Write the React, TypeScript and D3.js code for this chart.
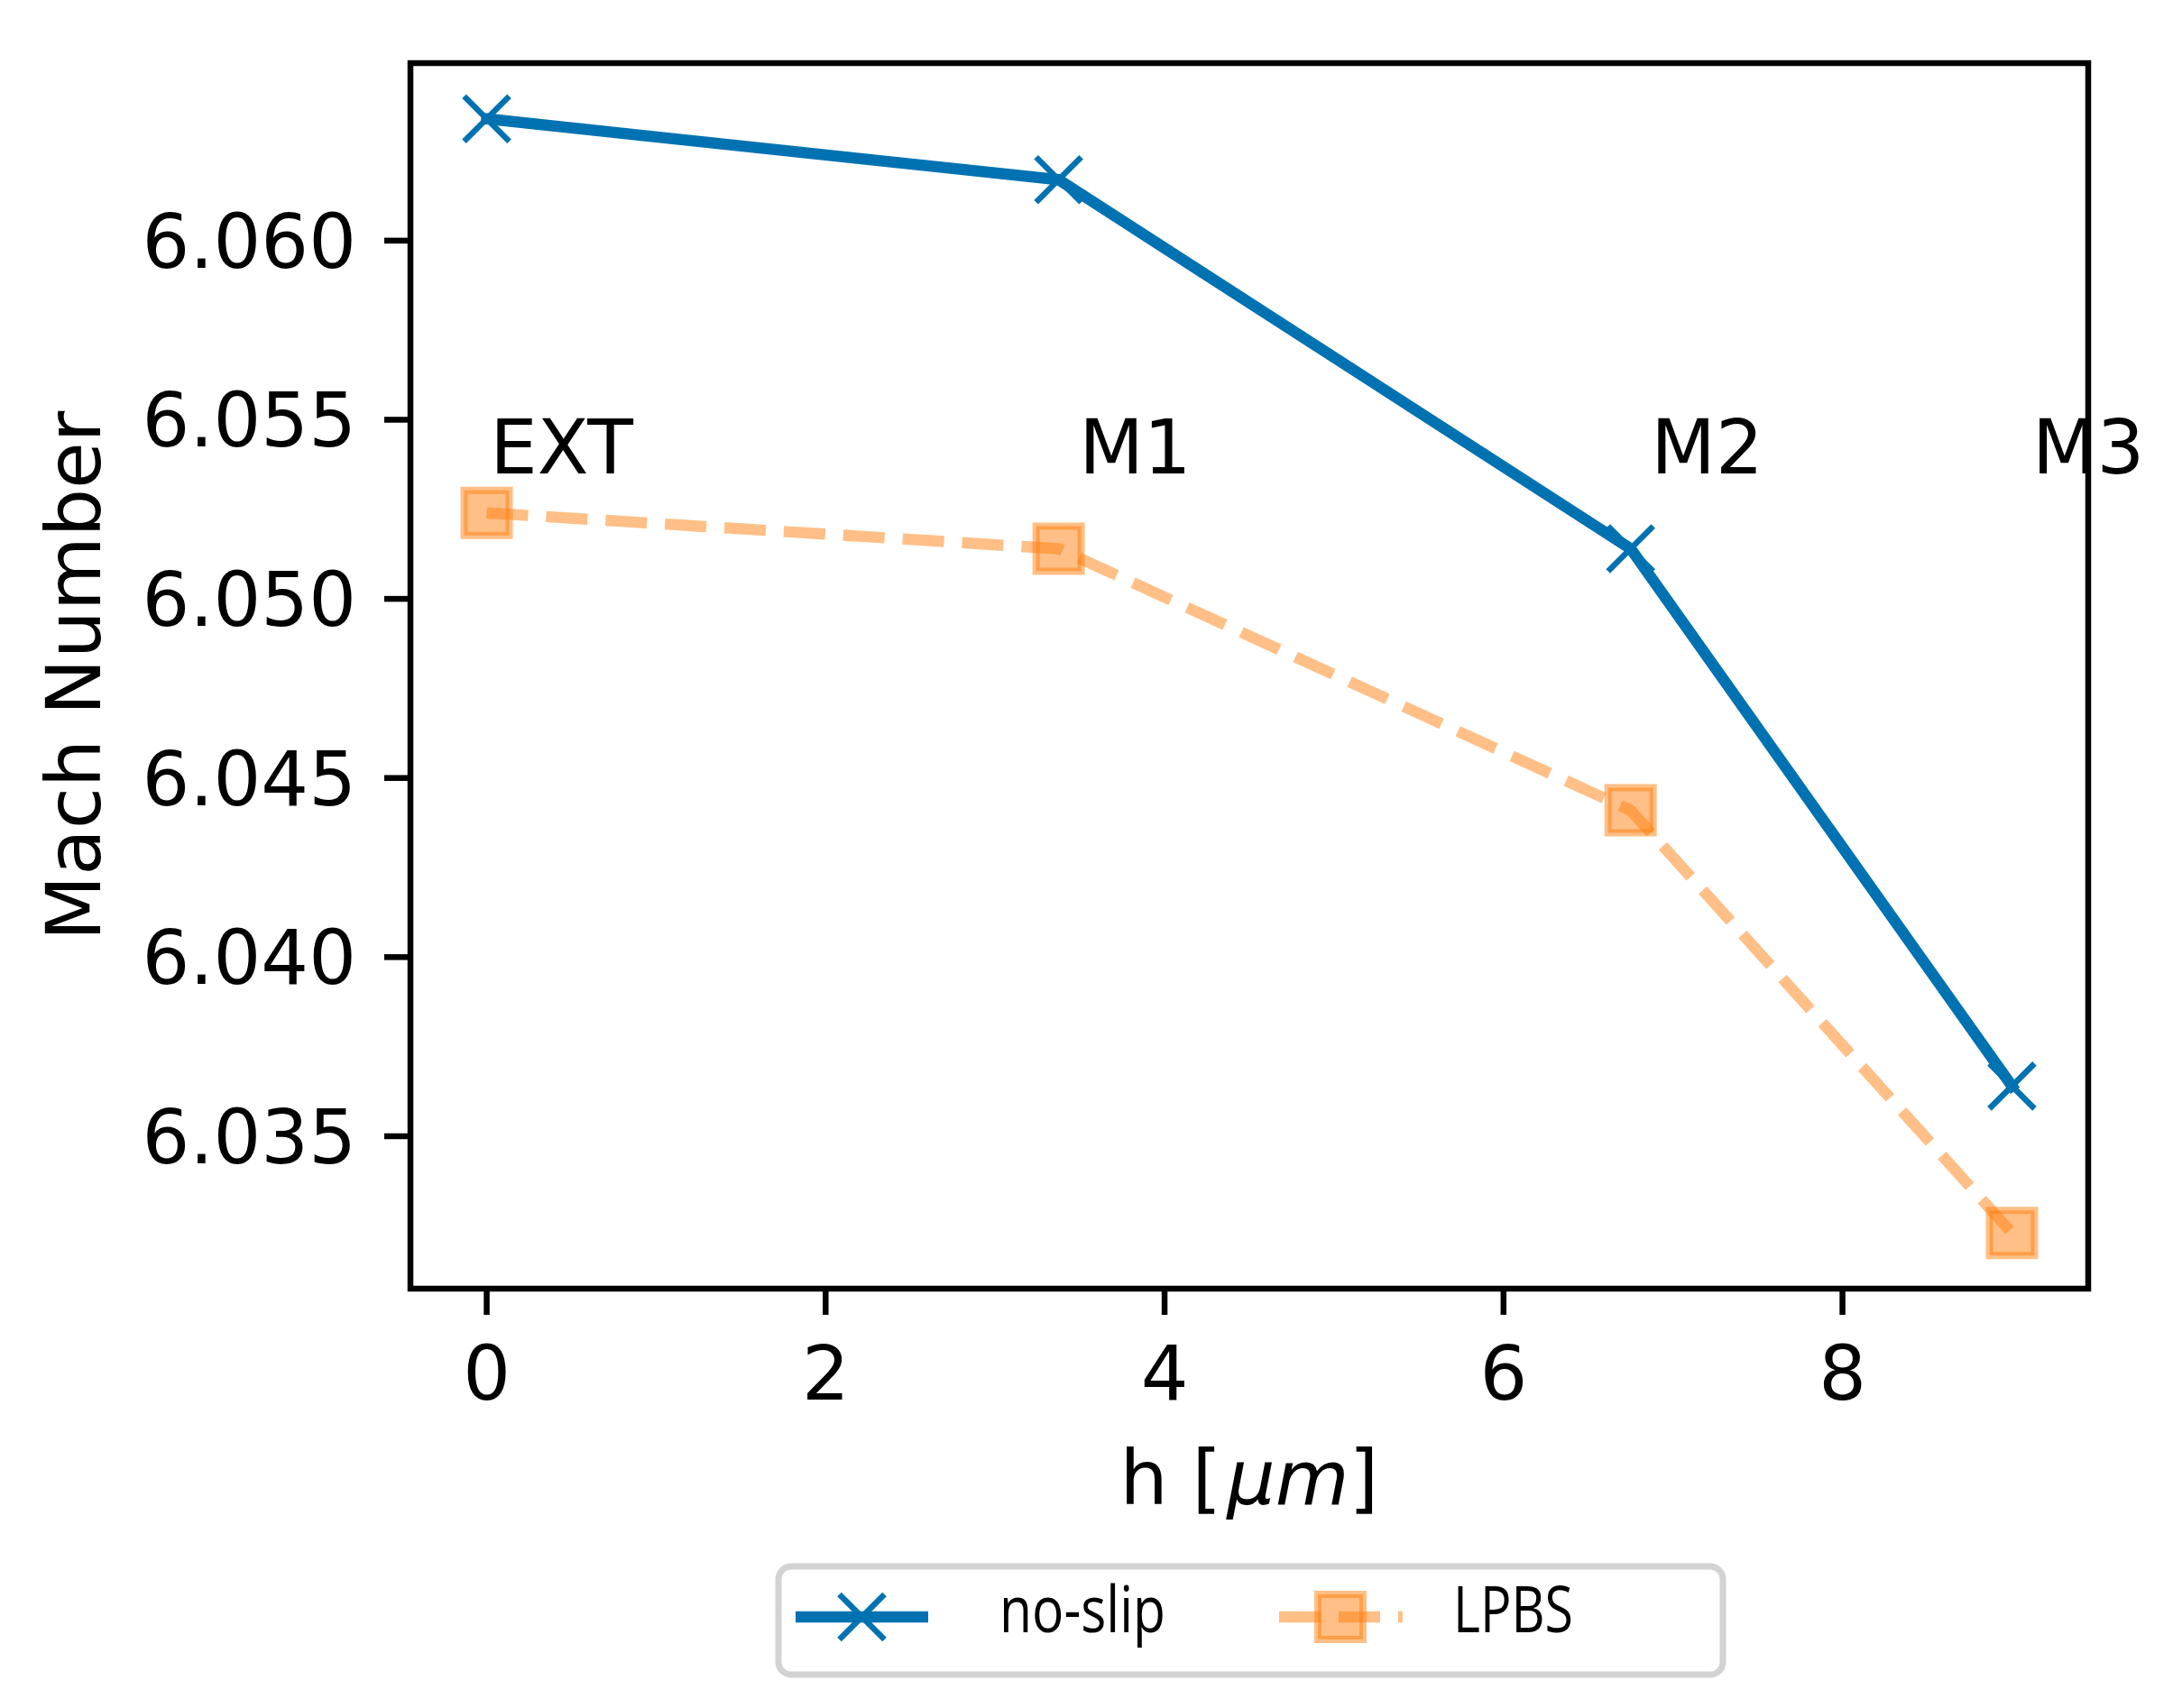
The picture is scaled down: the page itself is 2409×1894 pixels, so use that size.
import React, { useEffect, useRef } from 'react';
import * as d3 from 'd3';

// h positions of the meshes and the Mach numbers
const hValues = [0, 3.375, 6.75, 9];
const meshLabels = ['EXT', 'M1', 'M2', 'M3'];
const noSlip = [6.0634, 6.0617, 6.0514, 6.0364];
const lpbs = [6.0524, 6.0514, 6.0441, 6.0323];
const xTicks = [0, 2, 4, 6, 8];
const yTicks = [6.035, 6.04, 6.045, 6.05, 6.055, 6.06];
const labelLevel = 6.0535;
const seriesNames = ['no-slip', 'LPBS'];

const W = 2409;
const H = 1894;
const margin = { top: 70, right: W - 2315, bottom: H - 1429, left: 455 };

const BLUE = '#0072b2';
const ORANGE = '#ff7f0e';
const FONT = '"DejaVu Sans", sans-serif';
const LW = 12.5;

const App: React.FC = () => {
  const svgRef = useRef<SVGSVGElement>(null);

  useEffect(() => {
    const svg = d3.select(svgRef.current);
    svg.selectAll('*').remove();

    const xMin = d3.min(hValues) as number;
    const xMax = d3.max(hValues) as number;
    const all = [...noSlip, ...lpbs];
    const yMin = d3.min(all) as number;
    const yMax = d3.max(all) as number;
    const xPad = (xMax - xMin) * 0.05;
    const yPad = (yMax - yMin) * 0.05;

    const x = d3.scaleLinear()
      .domain([xMin - xPad, xMax + xPad])
      .range([margin.left, W - margin.right]);
    const y = d3.scaleLinear()
      .domain([yMin - yPad, yMax + yPad])
      .range([H - margin.bottom, margin.top]);

    const line = d3.line<number>()
      .x((_, i) => x(hValues[i]))
      .y(d => y(d));

    // LPBS dashed line
    svg.append('path')
      .attr('d', line(lpbs))
      .attr('fill', 'none')
      .attr('stroke', ORANGE)
      .attr('stroke-opacity', 0.5)
      .attr('stroke-width', LW)
      .attr('stroke-dasharray', '46,20')
      .attr('stroke-linejoin', 'round');

    // LPBS square markers
    svg.append('g')
      .selectAll('rect')
      .data(lpbs)
      .join('rect')
      .attr('x', (_, i) => x(hValues[i]) - 25)
      .attr('y', d => y(d) - 25)
      .attr('width', 50)
      .attr('height', 50)
      .attr('fill', ORANGE)
      .attr('fill-opacity', 0.5)
      .attr('stroke', ORANGE)
      .attr('stroke-opacity', 0.5)
      .attr('stroke-width', 8);

    // no-slip solid line
    svg.append('path')
      .attr('d', line(noSlip))
      .attr('fill', 'none')
      .attr('stroke', BLUE)
      .attr('stroke-width', LW)
      .attr('stroke-linejoin', 'round')
      .attr('stroke-linecap', 'square');

    const xMark = 'M-25,-25L25,25M-25,25L25,-25';
    svg.append('g')
      .selectAll('path')
      .data(noSlip)
      .join('path')
      .attr('transform', (d, i) => `translate(${x(hValues[i])},${y(d)})`)
      .attr('d', xMark)
      .attr('fill', 'none')
      .attr('stroke', BLUE)
      .attr('stroke-width', 6.5);

    // axes box
    svg.append('rect')
      .attr('x', margin.left)
      .attr('y', margin.top)
      .attr('width', W - margin.left - margin.right)
      .attr('height', H - margin.top - margin.bottom)
      .attr('fill', 'none')
      .attr('stroke', '#000')
      .attr('stroke-width', 6.5);

    const bottom = H - margin.bottom;
    const xt = svg.append('g');
    xTicks.forEach(t => {
      xt.append('line')
        .attr('x1', x(t)).attr('x2', x(t))
        .attr('y1', bottom).attr('y2', bottom + 29)
        .attr('stroke', '#000').attr('stroke-width', 6.5);
      xt.append('text')
        .attr('x', x(t)).attr('y', 1552)
        .attr('text-anchor', 'middle')
        .attr('font-family', FONT).attr('font-size', 83)
        .text(d3.format('d')(t));
    });

    const yt = svg.append('g');
    yTicks.forEach(t => {
      yt.append('line')
        .attr('x1', margin.left - 29).attr('x2', margin.left)
        .attr('y1', y(t)).attr('y2', y(t))
        .attr('stroke', '#000').attr('stroke-width', 6.5);
      yt.append('text')
        .attr('x', margin.left - 60).attr('y', y(t) + 30)
        .attr('text-anchor', 'end')
        .attr('font-family', FONT).attr('font-size', 83)
        .text(d3.format('.3f')(t));
    });

    // mesh annotations
    svg.append('g')
      .selectAll('text')
      .data(meshLabels)
      .join('text')
      .attr('x', (_, i) => x(hValues[i] + (i === 0 ? 0.02 : 0.12)))
      .attr('y', y(labelLevel))
      .attr('font-family', FONT)
      .attr('font-size', 83)
      .text(d => d);

    // axis labels
    svg.append('text')
      .attr('transform', `translate(111,${(margin.top + bottom) / 2}) rotate(-90)`)
      .attr('text-anchor', 'middle')
      .attr('font-family', FONT)
      .attr('font-size', 84)
      .text('Mach Number');

    const xl = svg.append('text')
      .attr('x', (margin.left + W - margin.right) / 2)
      .attr('y', 1668)
      .attr('text-anchor', 'middle')
      .attr('font-family', FONT)
      .attr('font-size', 84);
    xl.append('tspan').text('h [');
    xl.append('tspan').attr('font-style', 'italic').attr('dx', 6).text('μm');
    xl.append('tspan').text(']');

    // legend
    const lg = svg.append('g');
    lg.append('rect')
      .attr('x', 863).attr('y', 1737)
      .attr('width', 1047).attr('height', 120)
      .attr('rx', 14)
      .attr('fill', '#fff')
      .attr('stroke', '#d3d3d3')
      .attr('stroke-width', 7);

    const ly = 1793;
    lg.append('line')
      .attr('x1', 882).attr('x2', 1029).attr('y1', ly).attr('y2', ly)
      .attr('stroke', BLUE).attr('stroke-width', LW);
    lg.append('path')
      .attr('transform', `translate(955.5,${ly})`)
      .attr('d', xMark)
      .attr('fill', 'none').attr('stroke', BLUE).attr('stroke-width', 6.5);

    lg.append('line')
      .attr('x1', 1418).attr('x2', 1555).attr('y1', ly).attr('y2', ly)
      .attr('stroke', ORANGE).attr('stroke-opacity', 0.5)
      .attr('stroke-width', LW).attr('stroke-dasharray', '46,20');
    lg.append('rect')
      .attr('x', 1486 - 25).attr('y', ly - 25)
      .attr('width', 50).attr('height', 50)
      .attr('fill', ORANGE).attr('fill-opacity', 0.5)
      .attr('stroke', ORANGE).attr('stroke-opacity', 0.5)
      .attr('stroke-width', 8);

    const legendText = [
      { x: 1108, len: 184 },
      { x: 1611, len: 133 },
    ];
    seriesNames.forEach((name, i) => {
      lg.append('text')
        .attr('x', legendText[i].x)
        .attr('y', 1810)
        .attr('font-family', '"Open Sans", sans-serif')
        .attr('font-size', 71)
        .attr('textLength', legendText[i].len)
        .attr('lengthAdjust', 'spacingAndGlyphs')
        .text(name);
    });
  }, []);

  return (
    <div style={{ position: 'absolute', left: 0, top: 0, background: '#fff' }}>
      <svg ref={svgRef} width={W} height={H} style={{ display: 'block', background: '#fff' }} />
    </div>
  );
};

export default App;
